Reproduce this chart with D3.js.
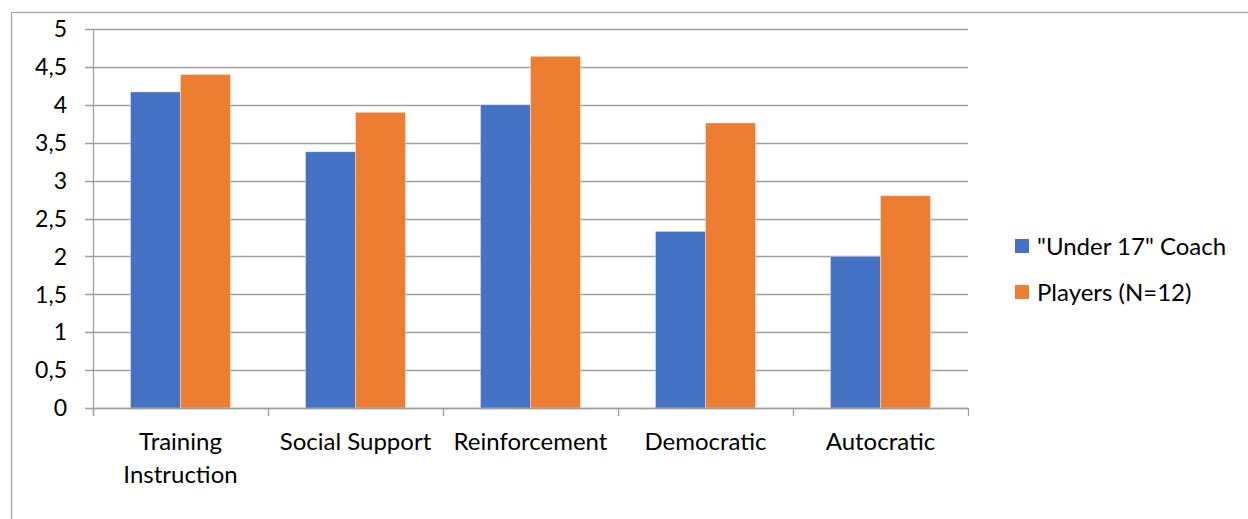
<!DOCTYPE html>
<html>
<head>
<meta charset="utf-8">
<script src="https://cdn.jsdelivr.net/npm/d3@7"></script>
<style>
  body { margin: 0; background: #fff; }
  text { font-family: Lato, "Open Sans", sans-serif; fill: #000; }
</style>
</head>
<body>
<div id="chart"></div>
<script>
var categories = [["Training", "Instruction"], ["Social Support"], ["Reinforcement"], ["Democratic"], ["Autocratic"]];
var seriesNames = ["\"Under 17\" Coach", "Players (N=12)"];
var coachValues = [4.17, 3.38, 4.0, 2.33, 2.0];
var playerValues = [4.4, 3.9, 4.64, 3.76, 2.8];
var yTicks = [0, 0.5, 1, 1.5, 2, 2.5, 3, 3.5, 4, 4.5, 5];
var colors = ["#4472C4", "#ED7D31"];

var w = 1248;
var h = 519;
var plotL = 93, plotR = 968, plotT = 29, plotB = 408;

var svg = d3.select("#chart").append("svg").attr("width", w).attr("height", h);

// chart border (runs off the picture on the right and bottom)
svg.append("rect")
  .attr("x", 11.5).attr("y", 12.5)
  .attr("width", w + 10).attr("height", h + 10)
  .attr("fill", "none").attr("stroke", "#a6a6a6").attr("stroke-width", 1.3);

var x = d3.scaleBand().domain(d3.range(categories.length)).range([plotL, plotR]);
var y = d3.scaleLinear().domain([0, 5]).range([plotB, plotT]);
var barW = x.bandwidth() / 3.5;

// gridlines + y ticks
svg.append("g").selectAll("line").data(yTicks).enter().append("line")
  .attr("x1", plotL - 8).attr("x2", plotR)
  .attr("y1", (d) => Math.round(y(d)) + 0.5).attr("y2", (d) => Math.round(y(d)) + 0.5)
  .attr("stroke", "#a0a0a0").attr("stroke-width", 1.3);

svg.append("g").selectAll("text").data(yTicks).enter().append("text")
  .attr("x", 67).attr("y", (d) => y(d))
  .attr("dy", "0.36em")
  .attr("text-anchor", "end")
  .style("font-size", "23px")
  .text((d) => String(d).replace(".", ","));

// bars
var data = categories.map((c, i) => [coachValues[i], playerValues[i]]);
var groups = svg.append("g").selectAll("g").data(data).enter().append("g")
  .attr("transform", (d, i) => "translate(" + (x(i) + barW * 0.75) + ",0)");
groups.selectAll("rect").data((d) => d).enter().append("rect")
  .attr("x", (d, j) => j * barW)
  .attr("y", (d) => y(d))
  .attr("width", barW)
  .attr("height", (d) => plotB - y(d))
  .attr("fill", (d, j) => colors[j])
  .attr("stroke", "#fff").attr("stroke-opacity", 0.5).attr("stroke-width", 0.7);

// x axis
svg.append("line")
  .attr("x1", plotL).attr("x2", plotR)
  .attr("y1", plotB + 0.5).attr("y2", plotB + 0.5)
  .attr("stroke", "#a0a0a0").attr("stroke-width", 1.3);
svg.append("line")
  .attr("x1", plotL + 0.5).attr("x2", plotL + 0.5)
  .attr("y1", plotT).attr("y2", plotB + 8)
  .attr("stroke", "#a0a0a0").attr("stroke-width", 1.3);
var tickXs = d3.range(categories.length + 1).map((i) => plotL + i * x.bandwidth());
svg.append("g").selectAll("line").data(tickXs).enter().append("line")
  .attr("x1", (d) => Math.round(d) + 0.5).attr("x2", (d) => Math.round(d) + 0.5)
  .attr("y1", plotB).attr("y2", plotB + 8)
  .attr("stroke", "#a0a0a0").attr("stroke-width", 1.3);

var labels = svg.append("g").selectAll("text").data(categories).enter().append("text")
  .attr("text-anchor", "middle")
  .style("font-size", "24px");
labels.selectAll("tspan").data((d, i) => d.map((t) => ({ t: t, i: i }))).enter().append("tspan")
  .attr("x", (d) => x(d.i) + x.bandwidth() / 2)
  .attr("y", (d, k) => 450 + k * 33)
  .text((d) => d.t);

// legend
var legend = svg.append("g").selectAll("g").data(seriesNames).enter().append("g")
  .attr("transform", (d, i) => "translate(1015," + (239 + i * 46) + ")");
legend.append("rect").attr("width", 14).attr("height", 14).attr("fill", (d, i) => colors[i]);
legend.append("text").attr("x", 22).attr("y", 7).attr("dy", "0.36em")
  .style("font-size", "24px").text((d) => d);
</script>
</body>
</html>
